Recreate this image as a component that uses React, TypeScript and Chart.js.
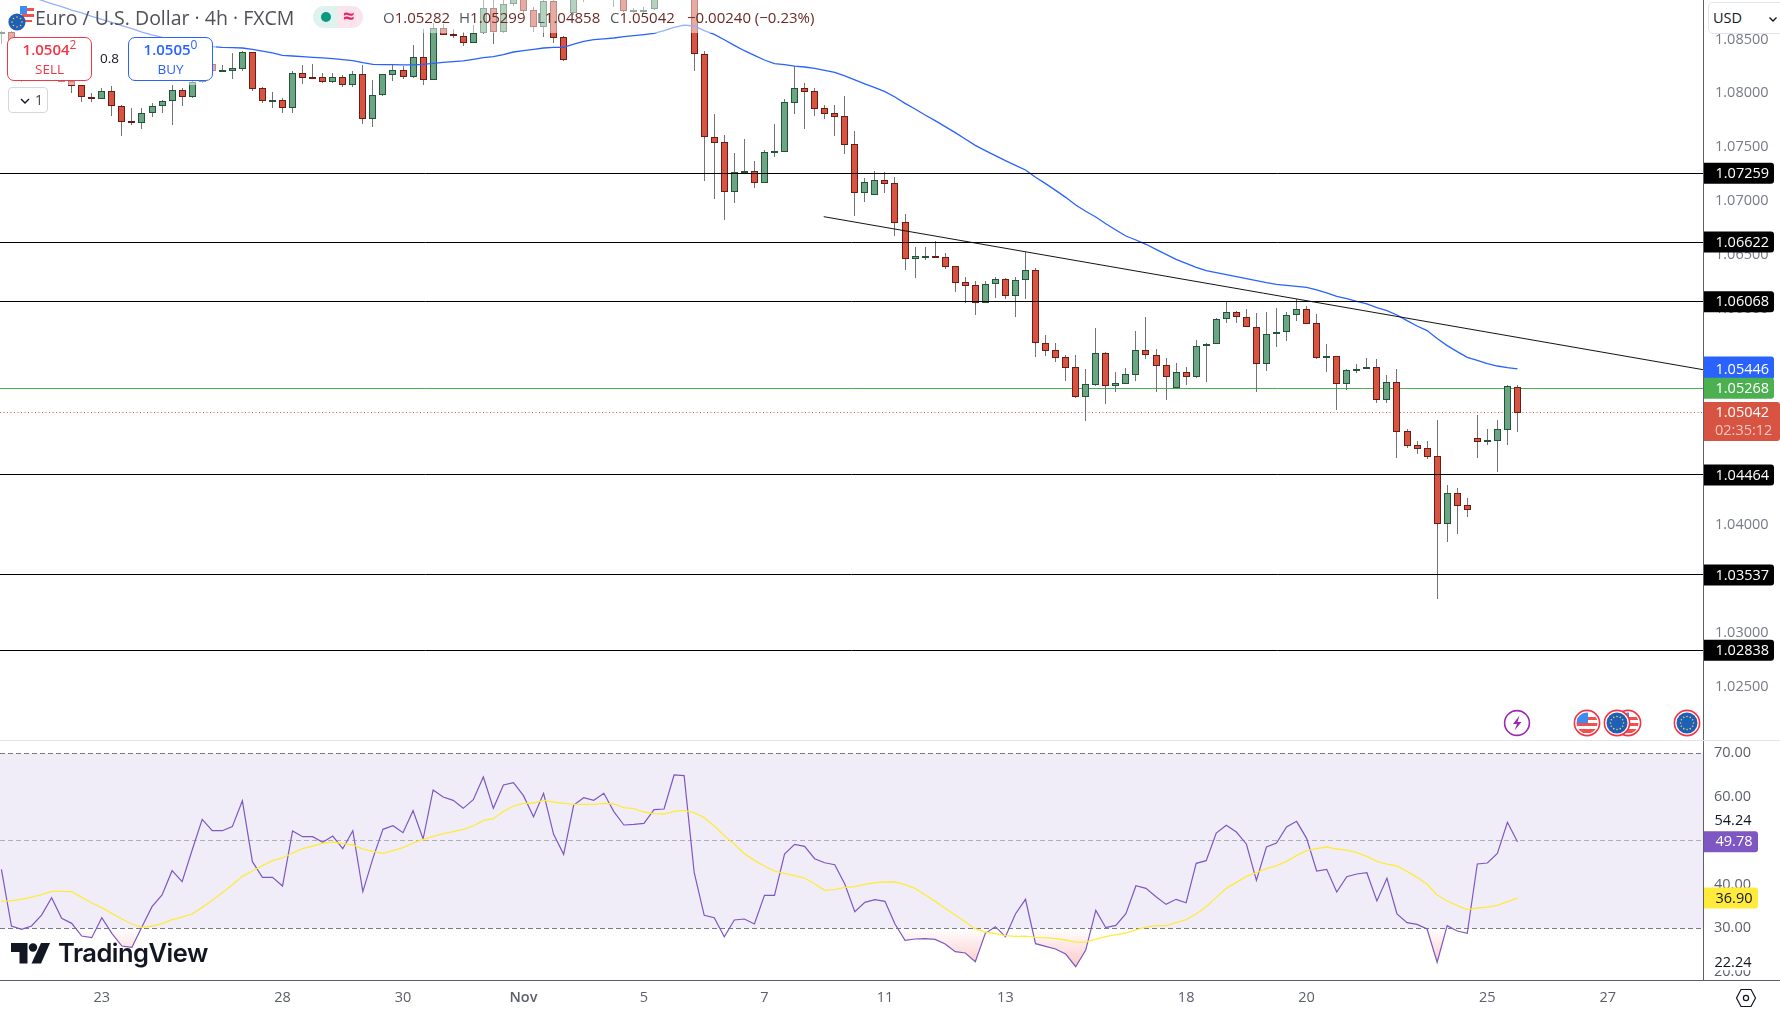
import { useEffect, useRef } from "react"
import { Chart, registerables } from "chart.js"

Chart.register(...registerables)

// 4h candles, left to right
const openPrices = [
  1.0855, 1.08565, 1.08463, 1.08309, 1.08201, 1.08263, 1.0817, 1.08111, 1.08074, 1.07963,
  1.07944, 1.08019, 1.0788, 1.07741, 1.07722, 1.07815, 1.0788, 1.07926, 1.08028, 1.07963,
  1.08102, 1.08269, 1.0821, 1.0821, 1.08229, 1.0838, 1.08046, 1.07917, 1.07935, 1.07867,
  1.08185, 1.08148, 1.08148, 1.08108, 1.08148, 1.0808, 1.08176, 1.07765, 1.07982, 1.08173,
  1.08213, 1.08155, 1.08334, 1.08124, 1.08602, 1.0855, 1.08528, 1.0847, 1.08556, 1.08788,
  1.08572, 1.08825, 1.08896, 1.08772, 1.08618, 1.08853, 1.08519, 1.08741, 1.08989, 1.09019,
  1.08942, 1.08896, 1.08927, 1.08763, 1.08769, 1.08779, 1.0888, 1.08989, 1.09097, 1.08927,
  1.08361, 1.07592, 1.07546, 1.07089, 1.07259, 1.07277, 1.07172, 1.07456, 1.0746, 1.07914,
  1.08046, 1.08019, 1.07861, 1.07815, 1.07787, 1.07527, 1.0708, 1.07055, 1.07194, 1.07166,
  1.06805, 1.06468, 1.06483, 1.0649, 1.0648, 1.06397, 1.06249, 1.06221, 1.0606, 1.0623,
  1.06276, 1.06125, 1.06267, 1.0636, 1.05683, 1.05618, 1.05553, 1.05461, 1.05189, 1.053,
  1.05591, 1.05291, 1.05309, 1.05393, 1.05618, 1.05578, 1.05479, 1.05272, 1.05415, 1.05374,
  1.05656, 1.05674, 1.05906, 1.05971, 1.05924, 1.05831, 1.05489, 1.05767, 1.05791, 1.05943,
  1.05998, 1.05869, 1.0555, 1.05563, 1.05309, 1.05433, 1.05458, 1.05461, 1.05161, 1.05322,
  1.04868, 1.04738, 1.0471, 1.04636, 1.04012, 1.04293, 1.04182, 1.04803, 1.04772, 1.04781,
  1.04883, 1.05282,
]
const highPrices = [
  1.08581, 1.08581, 1.08479, 1.0834, 1.08294, 1.08278, 1.08232, 1.08124, 1.0808, 1.08006,
  1.08046, 1.08068, 1.07889, 1.07867, 1.07861, 1.07907, 1.07938, 1.0808, 1.08046, 1.08148,
  1.08247, 1.08278, 1.0826, 1.08371, 1.08395, 1.08386, 1.08056, 1.08009, 1.07954, 1.08207,
  1.0826, 1.08272, 1.08192, 1.08192, 1.08173, 1.0821, 1.08263, 1.08124, 1.08179, 1.0826,
  1.08256, 1.08445, 1.08596, 1.08649, 1.08643, 1.08596, 1.08572, 1.08633, 1.0888, 1.0888,
  1.08874, 1.08958, 1.08927, 1.08803, 1.08865, 1.08865, 1.08531, 1.08896, 1.09004, 1.0905,
  1.0905, 1.09004, 1.08942, 1.08788, 1.08797, 1.08911, 1.09019, 1.09143, 1.09128, 1.08942,
  1.08392, 1.07809, 1.07614, 1.07447, 1.07577, 1.07373, 1.07475, 1.07716, 1.07948, 1.08253,
  1.08096, 1.08046, 1.07892, 1.07892, 1.07975, 1.07651, 1.07215, 1.0728, 1.07268, 1.07222,
  1.06882, 1.06576, 1.06576, 1.06629, 1.06517, 1.06397, 1.06298, 1.06261, 1.06261, 1.06295,
  1.06292, 1.06298, 1.06533, 1.06381, 1.0576, 1.05683, 1.05575, 1.05575, 1.05445, 1.05822,
  1.056, 1.05415, 1.05452, 1.05798, 1.05927, 1.05628, 1.05544, 1.05498, 1.05461, 1.05711,
  1.05686, 1.05915, 1.06063, 1.05983, 1.06002, 1.05964, 1.05974, 1.06011, 1.05974, 1.06091,
  1.06029, 1.05955, 1.05677, 1.05563, 1.05442, 1.05492, 1.05544, 1.05538, 1.0539, 1.05445,
  1.04889, 1.04778, 1.04778, 1.04973, 1.0437, 1.0434, 1.0425, 1.05019, 1.04889, 1.04973,
  1.05294, 1.05299,
]
const lowPrices = [
  1.08454, 1.08433, 1.08108, 1.08201, 1.0817, 1.08139, 1.08102, 1.08006, 1.07923, 1.07923,
  1.07944, 1.07793, 1.07608, 1.07704, 1.07673, 1.07784, 1.07815, 1.0771, 1.07886, 1.07954,
  1.08099, 1.08204, 1.08204, 1.08136, 1.0821, 1.08025, 1.07914, 1.07861, 1.07821, 1.07821,
  1.08087, 1.08136, 1.08099, 1.08093, 1.08062, 1.08056, 1.07716, 1.07691, 1.07978, 1.08114,
  1.08136, 1.08139, 1.0808, 1.08121, 1.08538, 1.08513, 1.08442, 1.0847, 1.08547, 1.0846,
  1.08556, 1.08809, 1.08726, 1.08572, 1.08525, 1.08463, 1.08303, 1.08726, 1.0885, 1.08896,
  1.08911, 1.08803, 1.08757, 1.08741, 1.08748, 1.08772, 1.08871, 1.08973, 1.08911, 1.0821,
  1.07188, 1.07021, 1.06826, 1.06984, 1.07259, 1.07123, 1.07172, 1.07413, 1.0746, 1.07809,
  1.0767, 1.0779, 1.07765, 1.07608, 1.07438, 1.06863, 1.06993, 1.07055, 1.0708, 1.06678,
  1.06366, 1.06292, 1.06459, 1.06477, 1.06375, 1.06159, 1.0606, 1.05949, 1.0606, 1.06107,
  1.06097, 1.0593, 1.06097, 1.0556, 1.05566, 1.05513, 1.05337, 1.0518, 1.04967, 1.05288,
  1.05121, 1.05235, 1.05309, 1.05337, 1.05538, 1.05235, 1.05161, 1.05272, 1.053, 1.05365,
  1.05328, 1.05674, 1.05875, 1.05875, 1.05831, 1.05235, 1.0543, 1.05652, 1.05708, 1.0589,
  1.05866, 1.05535, 1.05421, 1.05069, 1.05251, 1.05412, 1.05458, 1.0513, 1.0513, 1.04624,
  1.04716, 1.04658, 1.04611, 1.03314, 1.03845, 1.03916, 1.04074, 1.04624, 1.04741, 1.04491,
  1.04741, 1.04858,
]
const closePrices = [
  1.08565, 1.08463, 1.08309, 1.08263, 1.08263, 1.0817, 1.08108, 1.08068, 1.07963, 1.07944,
  1.08019, 1.0788, 1.07738, 1.07722, 1.07815, 1.0788, 1.07926, 1.08028, 1.07963, 1.08105,
  1.08232, 1.0821, 1.08219, 1.08232, 1.0838, 1.08043, 1.07932, 1.07935, 1.07867, 1.08185,
  1.08145, 1.08142, 1.08108, 1.08148, 1.0808, 1.08176, 1.07765, 1.07982, 1.08176, 1.08213,
  1.08155, 1.08334, 1.08127, 1.08602, 1.08544, 1.08528, 1.0847, 1.08556, 1.08788, 1.08572,
  1.08825, 1.08896, 1.08766, 1.08618, 1.08853, 1.08516, 1.08312, 1.0888, 1.08911, 1.08927,
  1.09035, 1.08989, 1.08763, 1.08769, 1.08775, 1.0888, 1.08989, 1.09112, 1.08927, 1.08361,
  1.07592, 1.07543, 1.07089, 1.07268, 1.07277, 1.07172, 1.07453, 1.07466, 1.07917, 1.08046,
  1.08016, 1.07858, 1.07812, 1.07784, 1.07524, 1.0708, 1.07175, 1.07194, 1.07163, 1.06801,
  1.06468, 1.0649, 1.0649, 1.06477, 1.06394, 1.06245, 1.06218, 1.0606, 1.0623, 1.06276,
  1.06125, 1.06267, 1.0636, 1.05683, 1.05615, 1.0555, 1.05458, 1.05189, 1.05303, 1.05591,
  1.05291, 1.05312, 1.05396, 1.05618, 1.05578, 1.05476, 1.05374, 1.05415, 1.05374, 1.05656,
  1.05674, 1.05906, 1.05971, 1.05924, 1.05831, 1.05489, 1.05767, 1.05791, 1.05943, 1.05998,
  1.05866, 1.0555, 1.05563, 1.05309, 1.05433, 1.05449, 1.05464, 1.05161, 1.05322, 1.04865,
  1.04735, 1.04707, 1.04633, 1.04012, 1.04293, 1.04179, 1.04142, 1.04772, 1.04784, 1.04886,
  1.05285, 1.05042,
]
const emaValues = [
  1.08979, 1.08948, 1.08921, 1.08893, 1.08862, 1.08831, 1.08803, 1.08772, 1.08745, 1.08714,
  1.08686, 1.08658, 1.08627, 1.08599, 1.08568, 1.08541, 1.08519, 1.085, 1.08485, 1.0847,
  1.08448, 1.08433, 1.08426, 1.08423, 1.0842, 1.08408, 1.08392, 1.08374, 1.08352, 1.08346,
  1.0834, 1.08334, 1.08328, 1.08321, 1.08312, 1.08303, 1.08284, 1.08269, 1.08266, 1.08266,
  1.08263, 1.08263, 1.08269, 1.08278, 1.08287, 1.08294, 1.083, 1.08315, 1.08331, 1.0834,
  1.08358, 1.08383, 1.08395, 1.08408, 1.0842, 1.08426, 1.08426, 1.08457, 1.08482, 1.08497,
  1.08504, 1.08513, 1.08525, 1.08534, 1.08544, 1.08556, 1.08581, 1.08612, 1.08633, 1.08624,
  1.08581, 1.08547, 1.08497, 1.08445, 1.08395, 1.08352, 1.08309, 1.08275, 1.08266, 1.08253,
  1.08244, 1.08232, 1.08213, 1.08195, 1.08161, 1.08124, 1.08087, 1.08053, 1.08016, 1.07966,
  1.07907, 1.07855, 1.07799, 1.07747, 1.07691, 1.07636, 1.07577, 1.07518, 1.07469, 1.07422,
  1.07376, 1.07333, 1.0729, 1.07222, 1.07163, 1.07101, 1.07036, 1.06965, 1.06907, 1.06854,
  1.06792, 1.06734, 1.06678, 1.06641, 1.06601, 1.06554, 1.06508, 1.06462, 1.06425, 1.06388,
  1.06357, 1.06338, 1.0632, 1.06301, 1.06283, 1.06264, 1.06245, 1.0623, 1.06221, 1.06211,
  1.06202, 1.06178, 1.0615, 1.06119, 1.06097, 1.06073, 1.06048, 1.06014, 1.05986, 1.05946,
  1.05893, 1.05844, 1.05801, 1.05727, 1.05662, 1.05606, 1.05553, 1.05526, 1.05495, 1.05473,
  1.05458, 1.05446,
]
const rsiValues = [
  43.47, 30.52, 29.76, 30.52, 33.03, 37.0, 32.27, 31.13, 28.23, 27.85,
  32.42, 28.84, 25.95, 25.64, 30.37, 34.94, 37.61, 43.17, 40.65, 47.89,
  54.9, 52.31, 52.31, 53.23, 59.17, 45.23, 41.65, 41.65, 39.66, 52.24,
  50.94, 50.94, 49.65, 51.09, 48.2, 52.31, 38.37, 45.99, 52.62, 53.46,
  51.86, 56.89, 50.41, 61.61, 60.01, 59.25, 57.42, 59.4, 64.58, 57.42,
  62.75, 63.29, 60.31, 55.51, 60.85, 51.48, 46.9, 58.18, 59.86, 59.25,
  60.85, 56.66, 53.61, 53.76, 53.99, 57.11, 57.27, 65.04, 64.89, 42.79,
  32.96, 32.42, 28.08, 31.89, 32.12, 30.98, 37.53, 37.53, 46.98, 49.19,
  48.73, 45.91, 44.98, 44.54, 40.12, 33.8, 35.93, 36.54, 36.16, 30.98,
  27.24, 27.55, 27.62, 27.47, 26.41, 24.65, 24.35, 22.37, 28.84, 30.37,
  28.08, 33.26, 36.62, 26.48, 25.87, 25.26, 24.12, 21.22, 25.03, 34.1,
  30.14, 30.67, 33.34, 39.74, 39.13, 37.23, 35.47, 36.62, 35.85, 44.85,
  45.46, 51.78, 53.53, 52.01, 49.27, 40.96, 48.58, 49.49, 53.15, 54.45,
  50.56, 43.09, 43.47, 38.29, 41.8, 42.41, 42.71, 36.24, 41.42, 33.26,
  31.28, 30.9, 29.83, 22.24, 30.6, 29.38, 28.84, 44.69, 44.92, 47.13,
  54.24, 49.78,
]
const rsiMaValues = [
  36.16, 36.31, 36.62, 37.15, 37.68, 38.45, 38.45, 38.37, 37.07, 35.78,
  34.71, 33.42, 32.12, 30.98, 30.22, 30.52, 31.05, 31.97, 32.58, 33.26,
  34.79, 36.39, 38.14, 39.97, 41.87, 43.09, 44.31, 45.46, 46.07, 47.21,
  48.2, 48.81, 49.42, 49.72, 49.34, 49.04, 48.12, 47.59, 47.13, 47.74,
  48.43, 49.49, 50.33, 51.02, 51.63, 52.08, 52.62, 53.38, 54.68, 55.06,
  56.73, 57.95, 58.56, 58.64, 59.25, 58.87, 58.56, 58.33, 58.33, 58.33,
  58.56, 58.41, 57.57, 57.34, 56.58, 56.2, 56.12, 56.73, 56.96, 56.43,
  55.29, 53.38, 51.17, 49.19, 47.06, 45.53, 44.24, 43.09, 42.56, 42.03,
  41.49, 40.12, 38.67, 38.83, 39.36, 39.51, 40.05, 40.43, 40.58, 40.58,
  39.97, 39.13, 37.68, 36.16, 34.56, 33.03, 31.51, 29.91, 29.15, 28.77,
  28.31, 28.16, 28.23, 27.93, 27.85, 27.62, 27.32, 26.86, 26.86, 27.55,
  28.08, 28.54, 28.92, 29.61, 30.29, 30.6, 30.6, 31.28, 31.97, 33.26,
  34.94, 37.07, 39.13, 40.5, 41.87, 42.71, 43.63, 44.31, 45.3, 46.6,
  47.74, 48.2, 48.58, 48.12, 47.89, 47.28, 46.45, 45.3, 44.69, 44.24,
  43.02, 41.65, 40.05, 37.61, 36.24, 35.17, 34.25, 34.64, 34.86, 35.24,
  36.08, 36.9,
]

const levelPrices = [1.07259, 1.06622, 1.06068, 1.04464, 1.03537, 1.02838]
const trendLineX = [81.9, 169.48]
const trendLinePrices = [1.06857, 1.05439]
const lastBidPrice = 1.05042
const prevClosePrice = 1.05268
const lastEmaPrice = 1.05446
const lastRsi = 49.78
const lastRsiMa = 36.9
const rsiHigh = 54.24
const rsiLow = 22.24

const dayTickBars = [10, 28, 40, 52, 64, 76, 88, 100, 118, 130, 148, 160]
const dayTickLabels = ["23", "28", "30", "Nov", "5", "7", "11", "13", "18", "20", "25", "27"]

const xMin = -0.14
const xMax = 169.48
const AXIS_FONT = "'Open Sans', sans-serif"
const AXIS_WIDTH = 77
const UP = "#6ba583"
const UP_BORDER = "#225437"
const DOWN = "#d75442"
const DOWN_BORDER = "#6b1c14"
const WICK = "#737375"
const AXIS_LINE = "#5d606b"

function flat(y: number) {
  return [{ x: xMin, y }, { x: xMax, y }]
}

// keeps the pane edges where the axis is, tick labels may overhang
function fitPriceAxis(s: any) {
  s.width = AXIS_WIDTH
  s.paddingTop = 0
  s.paddingBottom = 0
}

// snap bars and flat lines to whole device pixels so they stay sharp
const snapPlugin = {
  id: "snap",
  afterDatasetsUpdate(chart: any) {
    chart.data.datasets.forEach((ds: any, i: number) => {
      const meta = chart.getDatasetMeta(i)
      if (meta.type === "bar") {
        for (const el of meta.data) {
          el.x = Math.floor(el.x) + 0.5
          const top = Math.round(Math.min(el.y, el.base))
          const bottom = Math.round(Math.max(el.y, el.base))
          el.y = top
          el.base = ds.barThickness > 1 ? Math.max(bottom, top + 2) : bottom
          el.height = el.base - el.y
        }
      } else if (ds.data.length === 2 && ds.data[0].y === ds.data[1].y) {
        for (const el of meta.data) el.y = Math.floor(el.y) + 0.5
      }
    })
  },
}

function tagPlugin(tags: any[]) {
  return {
    id: "tags",
    afterDraw(chart: any) {
      const { ctx, scales } = chart
      const left = chart.chartArea.right + 1
      ctx.save()
      ctx.font = `14.5px ${AXIS_FONT}`
      ctx.textBaseline = "middle"
      ctx.textAlign = "left"
      for (const t of tags) {
        const y = scales.y.getPixelForValue(t.value) + (t.shift || 0)
        if (t.plain) {
          ctx.fillStyle = "#ffffff"
          ctx.fillRect(left + 8, y - 8, 44, 16)
        } else {
          const raise = t.raise || 0
          ctx.fillStyle = t.bg
          ctx.beginPath()
          ctx.roundRect(left, y - 10.5 - raise, t.width, (t.extra ? 39 : 21) + raise, [0, 3, 3, 0])
          ctx.fill()
        }
        ctx.fillStyle = t.color
        ctx.fillText(t.text, left + (t.plain ? 10.5 : 11.5), y + 0.5)
        if (t.extra) {
          ctx.fillStyle = "#f5c6bf"
          ctx.fillText(t.extra, left + 11, y + 18.5)
        }
      }
      ctx.restore()
    },
  }
}

function Flag({ kind, x, y }: { kind: "eu" | "us"; x: number; y: number }) {
  const id = `clip-${kind}-${x}`
  return (
    <svg width={28} height={28} viewBox="0 0 28 28" style={{ position: "absolute", left: x - 14, top: y - 14 }}>
      <circle cx={14} cy={14} r={12.6} fill="#fff" stroke="#f23645" strokeWidth={1.6} />
      <clipPath id={id}>
        <circle cx={14} cy={14} r={10.5} />
      </clipPath>
      {kind === "eu" ? (
        <g>
          <circle cx={14} cy={14} r={10.5} fill="#1e5fb8" />
          {[0, 1, 2, 3, 4, 5, 6, 7, 8, 9, 10, 11].map((i) => (
            <circle
              key={i}
              cx={14 + 6.5 * Math.cos((i * Math.PI) / 6)}
              cy={14 + 6.5 * Math.sin((i * Math.PI) / 6)}
              r={0.8}
              fill="#f7d23e"
            />
          ))}
        </g>
      ) : (
        <g clipPath={`url(#${id})`}>
          <rect x={0} y={0} width={28} height={28} fill="#fff" />
          <rect x={0} y={8} width={28} height={3} fill="#f0504f" />
          <rect x={0} y={14} width={28} height={3} fill="#f0504f" />
          <rect x={0} y={20} width={28} height={4} fill="#f0504f" />
          <rect x={3} y={3} width={12} height={11} fill="#3f8cf0" />
        </g>
      )}
    </svg>
  )
}

export default function App() {
  const priceRef = useRef<HTMLCanvasElement>(null)
  const rsiRef = useRef<HTMLCanvasElement>(null)

  useEffect(() => {
    if (!priceRef.current || !rsiRef.current) return

    const bars = openPrices.map((_, i) => i)
    const up = bars.map((i) => closePrices[i] >= openPrices[i])

    const lineBase = { type: "line", pointRadius: 0, fill: false, tension: 0 }

    const priceChart = new Chart(priceRef.current, {
      type: "bar",
      data: {
        datasets: [
          {
            ...lineBase,
            data: flat(prevClosePrice),
            borderColor: "#4caf50",
            borderWidth: 1,
            order: 6,
          },
          {
            ...lineBase,
            data: flat(lastBidPrice),
            borderColor: "#ef5350",
            borderWidth: 1,
            borderDash: [1, 2.5],
            order: 5,
          },
          {
            data: bars.map((i) => ({ x: i, y: [lowPrices[i], highPrices[i]] })),
            backgroundColor: WICK,
            barThickness: 1,
            grouped: false,
            borderSkipped: false,
            inflateAmount: 0,
            order: 4,
          },
          {
            data: bars.map((i) => ({ x: i, y: [openPrices[i], closePrices[i]] })),
            backgroundColor: up.map((u) => (u ? UP : DOWN)),
            borderColor: up.map((u) => (u ? UP_BORDER : DOWN_BORDER)),
            borderWidth: 1,
            barThickness: 7,
            grouped: false,
            borderSkipped: false,
            inflateAmount: 0,
            order: 3,
          },
          {
            ...lineBase,
            data: bars.map((i) => ({ x: i, y: emaValues[i] })),
            borderColor: "#2962ff",
            borderWidth: 1.3,
            order: 2,
          },
          ...levelPrices.map((p) => ({
            ...lineBase,
            data: flat(p),
            borderColor: "#000000",
            borderWidth: 1,
            order: 1,
          })),
          {
            ...lineBase,
            data: trendLineX.map((x, i) => ({ x, y: trendLinePrices[i] })),
            borderColor: "#131313",
            borderWidth: 1,
            order: 1,
          },
        ],
      } as any,
      options: {
        animation: false,
        responsive: false,
        layout: { padding: 0, autoPadding: false },
        plugins: { legend: { display: false }, tooltip: { enabled: false } },
        scales: {
          x: { type: "linear", display: false, min: xMin, max: xMax, offset: false, grid: { display: false } },
          y: {
            position: "right",
            min: 1.02007,
            max: 1.08865,
            afterFit: fitPriceAxis,
            grid: { display: false, drawTicks: false, tickLength: 0 },
            border: { display: true, color: AXIS_LINE, width: 1 },
            ticks: {
              stepSize: 0.005,
              includeBounds: false,
              padding: 12,
              color: "#787b86",
              font: { family: AXIS_FONT, size: 14.5 },
              callback: (v: any) => Number(v).toFixed(5),
            },
          },
        },
      } as any,
      plugins: [
        snapPlugin,
        tagPlugin([
          ...levelPrices.map((p) => ({ value: p, text: p.toFixed(5), bg: "#000000", color: "#ffffff", width: 70 })),
          { value: lastEmaPrice, text: lastEmaPrice.toFixed(5), bg: "#2962ff", color: "#ffffff", width: 70, raise: 2 },
          { value: prevClosePrice, text: prevClosePrice.toFixed(5), bg: "#4caf50", color: "#ffffff", width: 70 },
          { value: lastBidPrice, text: lastBidPrice.toFixed(5), bg: DOWN, color: "#ffffff", width: 76, extra: "02:35:12" },
        ]),
      ],
    })

    const rsiChart = new Chart(rsiRef.current, {
      type: "line",
      data: {
        datasets: [
          {
            data: flat(70),
            borderColor: "#787b86",
            borderWidth: 1,
            borderDash: [5, 3],
            pointRadius: 0,
            fill: { value: 30 },
            backgroundColor: "rgba(126,87,194,0.11)",
            order: 5,
          },
          {
            data: flat(50),
            borderColor: "rgba(120,123,134,0.55)",
            borderWidth: 1,
            borderDash: [5, 3],
            pointRadius: 0,
            fill: false,
            order: 4,
          },
          {
            data: flat(30),
            borderColor: "#787b86",
            borderWidth: 1,
            borderDash: [5, 3],
            pointRadius: 0,
            fill: false,
            order: 4,
          },
          {
            data: bars.map((i) => ({ x: i, y: rsiValues[i] })),
            borderColor: "#7e57c2",
            borderWidth: 1.2,
            pointRadius: 0,
            tension: 0,
            fill: false,
            order: 3,
          },
          {
            data: bars.map((i) => ({ x: i, y: rsiMaValues[i] })),
            borderColor: "#ffeb3b",
            borderWidth: 1.3,
            pointRadius: 0,
            tension: 0,
            fill: false,
            order: 2,
          },
        ],
      } as any,
      options: {
        animation: false,
        responsive: false,
        layout: { padding: 0, autoPadding: false },
        plugins: { legend: { display: false }, tooltip: { enabled: false } },
        scales: {
          x: {
            type: "linear",
            position: "bottom",
            min: xMin,
            max: xMax,
            afterFit: (s: any) => {
              s.height = 32
              s.paddingLeft = 0
              s.paddingRight = 0
            },
            afterBuildTicks: (s: any) => {
              s.ticks = dayTickBars.map((value) => ({ value }))
            },
            grid: { display: false, drawTicks: false, tickLength: 0 },
            border: { display: true, color: AXIS_LINE, width: 1 },
            ticks: {
              autoSkip: false,
              maxRotation: 0,
              padding: 9,
              color: "#5d606b",
              font: (c: any) => ({
                family: AXIS_FONT,
                size: 14.5,
                weight: c.tick && c.tick.label === "Nov" ? "600" : "400",
              }),
              callback: (v: any) => dayTickLabels[dayTickBars.indexOf(v)],
            },
          },
          y: {
            position: "right",
            min: 18.18,
            max: 73.04,
            afterFit: fitPriceAxis,
            grid: { display: false, drawTicks: false, tickLength: 0 },
            border: { display: true, color: AXIS_LINE, width: 1 },
            ticks: {
              stepSize: 10,
              includeBounds: false,
              padding: 11,
              color: "#5d606b",
              font: { family: AXIS_FONT, size: 14.5 },
              callback: (v: any) => Number(v).toFixed(2),
            },
          },
        },
      } as any,
      plugins: [
        snapPlugin,
        tagPlugin([
          { value: rsiHigh, text: rsiHigh.toFixed(2), plain: true, color: "#131722", shift: -1.8 },
          { value: rsiLow, text: rsiLow.toFixed(2), plain: true, color: "#131722" },
          { value: lastRsi, text: lastRsi.toFixed(2), bg: "#7e57c2", color: "#ffffff", width: 54 },
          { value: lastRsiMa, text: lastRsiMa.toFixed(2), bg: "#ffeb3b", color: "#131722", width: 54 },
        ]),
      ],
    })

    // pink fill under the 30 line, faded from the line downwards
    const yScale = rsiChart.scales.y
    const shade = rsiChart.ctx.createLinearGradient(0, yScale.getPixelForValue(30), 0, yScale.getPixelForValue(21))
    shade.addColorStop(0, "rgba(239,83,80,0)")
    shade.addColorStop(1, "rgba(239,83,80,0.32)")
    ;(rsiChart.data.datasets[3] as any).fill = { target: { value: 30 }, above: "rgba(0,0,0,0)", below: shade }
    rsiChart.update()

    return () => {
      priceChart.destroy()
      rsiChart.destroy()
    }
  }, [])

  const abs = (left: number, top: number, extra: any = {}) => ({ position: "absolute", left, top, ...extra })
  const uiFont = "'Open Sans', sans-serif"
  const ohlcDark = "#6b2a24"
  const ohlcLabel = { color: "#55585f" }

  return (
    <div style={{ position: "absolute", left: 0, top: 0, width: 1780, height: 1012, overflow: "hidden", background: "#fff", fontFamily: uiFont }}>
      <canvas ref={priceRef} width={1780} height={740} style={abs(0, 0, { display: "block" })} />
      <canvas ref={rsiRef} width={1780} height={272} style={abs(0, 740, { display: "block" })} />

      <div style={abs(0, 740, { width: 1780, height: 1, background: "#e0e3eb" })} />
      <div style={abs(1703, 980, { width: 77, height: 1, background: AXIS_LINE })} />

      {/* legend veil over the candles */}
      <div style={abs(0, 0, { width: 825, height: 33, background: "rgba(255,255,255,0.5)" })} />
      <div style={abs(0, 33, { width: 216, height: 52, background: "rgba(255,255,255,0.5)" })} />

      <div style={abs(35, 4, { fontSize: 19.5, lineHeight: "27px", color: "#4f5159", whiteSpace: "nowrap" })}>
        Euro / U.S. Dollar · 4h · FXCM
      </div>
      <svg width={26} height={28} viewBox="0 0 26 28" style={abs(8, 5)}>
        <circle cx={17} cy={10} r={9} fill="#fff" />
        <rect x={14} y={3} width={12} height={3} fill="#f0504f" />
        <rect x={14} y={9} width={12} height={3} fill="#f0504f" />
        <rect x={14} y={15} width={10} height={2} fill="#f0504f" />
        <rect x={12} y={1} width={7} height={8} fill="#3f8cf0" />
        <circle cx={9} cy={17} r={8.6} fill="#1e5fb8" />
        {[0, 1, 2, 3, 4, 5, 6, 7].map((i) => (
          <circle key={i} cx={9 + 5 * Math.cos((i * Math.PI) / 4)} cy={17 + 5 * Math.sin((i * Math.PI) / 4)} r={0.8} fill="#f7d23e" />
        ))}
      </svg>

      <div style={abs(313, 6, { width: 25, height: 22, background: "#e0f2ef", borderRadius: "11px 0 0 11px" })} />
      <div style={abs(338, 6, { width: 25, height: 22, background: "#fce4ec", borderRadius: "0 11px 11px 0" })} />
      <div style={abs(321, 12, { width: 10, height: 10, background: "#089981", borderRadius: 5 })} />
      <div style={abs(343, 2, { fontSize: 20, lineHeight: "28px", fontWeight: 700, color: "#e91e63" })}>≈</div>

      {[
        { left: 383, label: "O", value: "1.05282" },
        { left: 459, label: "H", value: "1.05299" },
        { left: 537, label: "L", value: "1.04858" },
        { left: 610, label: "C", value: "1.05042" },
        { left: 687, label: "", value: "−0.00240 (−0.23%)" },
      ].map((o) => (
        <div key={o.left} style={abs(o.left, 7, { fontSize: 15, lineHeight: "21px", color: ohlcDark, whiteSpace: "nowrap" })}>
          <span style={ohlcLabel}>{o.label}</span>
          {o.value}
        </div>
      ))}

      {/* sell / buy buttons */}
      <div style={abs(7, 37, { width: 83, height: 42, background: "#fff", border: "1px solid #f23645", borderRadius: 7, textAlign: "center", color: "#f23645" })}>
        <div style={{ fontSize: 15, fontWeight: 600, lineHeight: "22px" }}>
          1.0504<sup style={{ fontSize: 12, fontWeight: 400, lineHeight: 0 }}>2</sup>
        </div>
        <div style={{ fontSize: 13.5, lineHeight: "18px" }}>SELL</div>
      </div>
      <div style={abs(100, 49, { fontSize: 13.5, lineHeight: "18px", color: "#131722" })}>0.8</div>
      <div style={abs(128, 37, { width: 83, height: 42, background: "#fff", border: "1px solid #2962ff", borderRadius: 7, textAlign: "center", color: "#2962ff" })}>
        <div style={{ fontSize: 15, fontWeight: 600, lineHeight: "22px" }}>
          1.0505<sup style={{ fontSize: 12, fontWeight: 400, lineHeight: 0 }}>0</sup>
        </div>
        <div style={{ fontSize: 13.5, lineHeight: "18px" }}>BUY</div>
      </div>
      <div style={abs(8, 87, { width: 38, height: 24, background: "#fff", border: "1px solid #d6d8e0", borderRadius: 4 })}>
        <svg width={12} height={8} viewBox="0 0 12 8" style={abs(10, 9)}>
          <path d="M2 2l4 4 4-4" fill="none" stroke="#131722" strokeWidth={1.4} />
        </svg>
        <div style={abs(26, 2, { fontSize: 14, lineHeight: "20px", color: "#444" })}>1</div>
      </div>

      {/* currency selector */}
      <div style={abs(1708, 2, { width: 76, height: 30, background: "#fff", border: "1px solid #e0e3eb", borderRadius: 5 })}>
        <div style={abs(4, 4, { fontSize: 14.5, lineHeight: "22px", color: "#131722" })}>USD</div>
        <svg width={10} height={7} viewBox="0 0 10 7" style={abs(59, 13)}>
          <path d="M1.5 1.5L5 5l3.5-3.5" fill="none" stroke="#131722" strokeWidth={1.4} />
        </svg>
      </div>

      {/* calendar events along the bottom of the price pane */}
      <svg width={28} height={28} viewBox="0 0 28 28" style={abs(1503, 709)}>
        <circle cx={14} cy={14} r={12.4} fill="#fff" stroke="#9c27b0" strokeWidth={1.6} />
        <path d="M16.5 6.5L10 15h4l-2.5 6.5L18.5 13h-4z" fill="#9c27b0" />
      </svg>
      <Flag kind="us" x={1628} y={723} />
      <Flag kind="us" x={1587} y={723} />
      <Flag kind="eu" x={1617} y={723} />
      <Flag kind="eu" x={1687} y={723} />

      {/* watermark */}
      <svg width={40} height={21} viewBox="0 0 40 21" style={abs(11, 943)}>
        <path d="M0 0h16.5v20.5H8.5V9H0z" fill="#131722" />
        <circle cx={22} cy={4.5} r={4.2} fill="#131722" />
        <path d="M30 0h9L30 20.5H20.5z" fill="#131722" />
      </svg>
      <div style={abs(58, 934, { fontFamily: "Inter, sans-serif", fontSize: 25.5, fontWeight: 600, lineHeight: "38px", letterSpacing: -0.5, color: "#131722" })}>
        TradingView
      </div>

      {/* settings hexagon */}
      <svg width={22} height={20} viewBox="0 0 22 20" style={abs(1735, 988)}>
        <path d="M6 1.5h10L20.5 10 16 18.5H6L1.5 10z" fill="none" stroke="#131722" strokeWidth={1.2} />
        <circle cx={11} cy={10} r={2.6} fill="none" stroke="#131722" strokeWidth={1.2} />
      </svg>
    </div>
  )
}
